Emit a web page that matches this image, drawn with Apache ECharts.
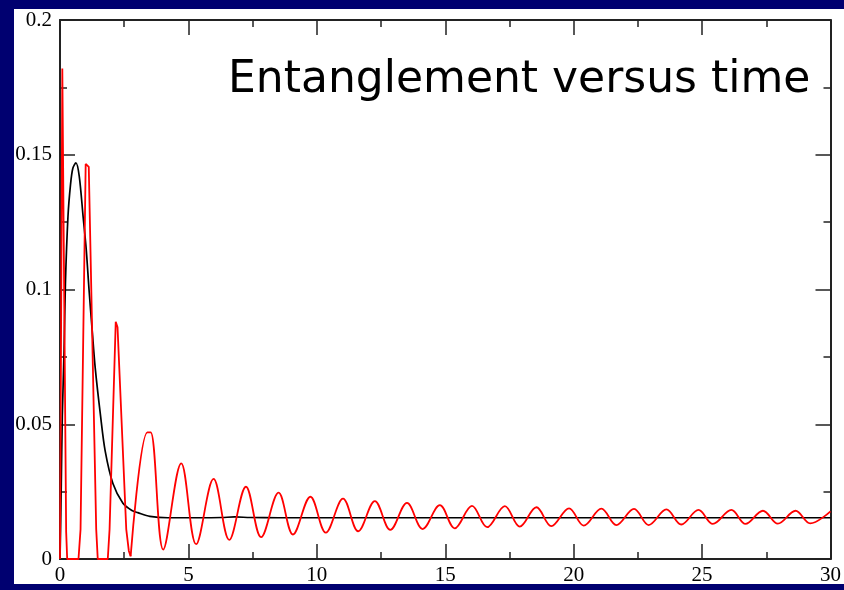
<!DOCTYPE html>
<html>
<head>
<meta charset="utf-8">
<script src="https://cdn.jsdelivr.net/npm/echarts@6/dist/echarts.min.js"></script>
<style>
  html, body { margin: 0; padding: 0; background: #000070; }
  #panel { position: absolute; left: 14px; top: 9px; width: 830px; height: 575px; background: #ffffff; }
  #chart { position: absolute; left: 0; top: 0; width: 844px; height: 590px; }
</style>
</head>
<body>
<div id="panel"></div>
<div id="chart"></div>
<script>
// Axis ranges and tick steps
const timeMin = 0, timeMax = 30, timeStep = 5;
const entMin = 0, entMax = 0.2, entStep = 0.05;
const titleText = 'Entanglement versus time';

// Black curve: rises quickly, then settles to a constant level  [time, entanglement]
const settlingCurve = [
  [0, 0], [0.02, 0.010], [0.05, 0.028], [0.09, 0.053], [0.16, 0.078], [0.21, 0.102],
  [0.31, 0.127], [0.41, 0.139], [0.50, 0.145], [0.62, 0.147], [0.75, 0.142], [0.90, 0.127],
  [1.02, 0.115], [1.13, 0.100], [1.26, 0.084], [1.37, 0.071], [1.58, 0.053], [1.76, 0.040],
  [2.06, 0.028], [2.45, 0.0207], [2.80, 0.0180], [3.03, 0.0172], [3.5, 0.0158], [4.2, 0.0153],
  [5.5, 0.0153], [6.3, 0.0154], [6.8, 0.0156], [7.4, 0.0154], [8.5, 0.0153], [12, 0.0153],
  [20, 0.0153], [30, 0.0153]
];

// Red curve, first sharp revivals (drawn as straight segments)
const oscillationEarly = [
  [0, 0], [0.09, 0.182], [0.24, 0.010], [0.28, 0], [0.72, 0], [0.80, 0.011],
  [1.00, 0.1466], [1.12, 0.1455], [1.41, 0.011], [1.47, 0], [1.86, 0], [1.93, 0.011],
  [2.17, 0.088], [2.24, 0.086], [2.58, 0.011], [2.68, 0.003], [2.75, 0.001]
];

// Red curve, damped oscillation: successive minima and maxima
const oscillationLate = [
  [2.75, 0.001], [3.40, 0.047], [3.53, 0.047], [4.02, 0.0035], [4.72, 0.0355], [5.30, 0.0055],
  [5.98, 0.0297], [6.59, 0.0071], [7.24, 0.0268], [7.83, 0.0081], [8.51, 0.0246], [9.07, 0.0091],
  [9.75, 0.0231], [10.35, 0.0098], [11.02, 0.0224], [11.61, 0.0103], [12.26, 0.0215], [12.86, 0.0108],
  [13.51, 0.0208], [14.12, 0.0111], [14.79, 0.0200], [15.37, 0.0114], [16.04, 0.0197], [16.63, 0.0118],
  [17.32, 0.0196], [17.90, 0.0120], [18.55, 0.0192], [19.13, 0.0122], [19.82, 0.0188], [20.39, 0.0124],
  [21.08, 0.0187], [21.66, 0.0126], [22.35, 0.0186], [22.92, 0.0126], [23.61, 0.0184], [24.19, 0.0128],
  [24.86, 0.0182], [25.42, 0.0130], [26.14, 0.0182], [26.69, 0.0130], [27.37, 0.0179], [27.95, 0.0131],
  [28.64, 0.0179], [29.21, 0.0132], [30, 0.0177]
];

const axisColor = '#222222';
const labelFont = { color: '#000', fontFamily: '"Liberation Serif", "DejaVu Serif", serif', fontSize: 21 };

function frameAxis(extra) {
  return Object.assign({
    type: 'value',
    axisLine: { show: true, onZero: false, lineStyle: { color: axisColor, width: 2 } },
    axisTick: { show: true, inside: true, length: 15, lineStyle: { color: axisColor, width: 1.5 } },
    minorTick: { show: true, splitNumber: 2, length: 7, lineStyle: { color: axisColor, width: 1.5 } },
    splitLine: { show: false },
    minorSplitLine: { show: false }
  }, extra);
}

const chart = echarts.init(document.getElementById('chart'), null, { renderer: 'canvas' });
chart.setOption({
  backgroundColor: 'transparent',
  animation: false,
  grid: { left: 60, top: 20, right: 13, bottom: 31, containLabel: false },
  xAxis: [
    frameAxis({ position: 'bottom', min: timeMin, max: timeMax, interval: timeStep,
      axisLabel: Object.assign({ show: true, margin: 6 }, labelFont) }),
    frameAxis({ position: 'top', min: timeMin, max: timeMax, interval: timeStep,
      axisLabel: { show: false } })
  ],
  yAxis: [
    frameAxis({ position: 'left', min: entMin, max: entMax, interval: entStep,
      axisLabel: Object.assign({ show: true, margin: 8 }, labelFont) }),
    frameAxis({ position: 'right', min: entMin, max: entMax, interval: entStep,
      axisLabel: { show: false } })
  ],
  graphic: [{
    type: 'text',
    left: 228,
    top: 59,
    style: { text: titleText, font: '44px "DejaVu Sans"', fill: '#000' }
  }],
  series: [
    {
      type: 'line', data: settlingCurve, smooth: 0.3, showSymbol: false, clip: false,
      lineStyle: { color: '#000', width: 1.7 }
    },
    {
      type: 'line', data: oscillationEarly, smooth: false, showSymbol: false, clip: false,
      lineStyle: { color: '#ff0000', width: 1.8 }
    },
    {
      type: 'line', data: oscillationLate, smooth: 0.36, showSymbol: false, clip: false,
      lineStyle: { color: '#ff0000', width: 1.8 }
    }
  ]
});
</script>
</body>
</html>
